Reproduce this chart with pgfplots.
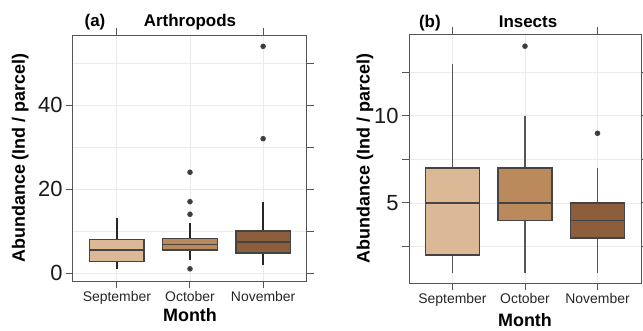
\documentclass[border=0pt]{standalone}
\usepackage{fontspec}
\setmainfont{Liberation Sans}
\usepackage{pgfplots}
\pgfplotsset{compat=1.18}
\usepgfplotslibrary{statistics}
\definecolor{sepc}{HTML}{DBB896}
\definecolor{octc}{HTML}{BA8A5C}
\definecolor{novc}{HTML}{8C5E3B}
\definecolor{boxc}{HTML}{444444}
\definecolor{axc}{HTML}{555555}
\definecolor{gridc}{HTML}{EBEBEB}
\tikzset{ttl/.style={font=\bfseries\fontsize{17}{17}\selectfont, anchor=base}}
\pgfplotsset{
 base/.style={scale only axis, anchor=north west, xmin=-0.6, xmax=2.6,
   axis line style={axc, line width=1bp}, tick style={axc, line width=1bp},
   tick align=outside, major tick length=7bp,
   /pgf/number format/assume math mode=true},
 main/.style={base, xtick={0,1,2}, xticklabels={September,October,November},
   tick pos=left, minor tick length=0pt, grid=both, clip=false,
   major grid style={gridc, line width=0.8bp}, minor grid style={gridc, line width=0.8bp},
   xticklabel style={font=\fontsize{14}{14}\selectfont, text=black!85},
   yticklabel style={font=\fontsize{22}{22}\selectfont, text=black!90},
   xlabel={Month}, ylabel={Abundance (Ind / parcel)},
   xlabel style={font=\bfseries\fontsize{18}{18}\selectfont, anchor=center},
   ylabel style={font=\bfseries\fontsize{18}{18}\selectfont, anchor=center},
   boxplot/draw direction=y},
 over/.style={base, axis line style={draw=none}, tick pos=right, xtick={0,2},
   xticklabels={}, yticklabels={}},
 bx/.style={boxplot/draw direction=y, boxplot/box extend=0.75, boxplot/whisker extend=0, draw=boxc,
   line width=1.5bp, mark=*, mark size=2bp, mark options={draw=none, fill=black!80},
   boxplot/every box/.style={draw=boxc, line width=1.6bp},
   boxplot/every median/.style={draw=boxc, line width=1.5bp},
   boxplot/every whisker/.style={draw=black!85, line width=1.3bp}},
 bxb/.style={bx, boxplot/every whisker/.style={draw=axc, line width=1.3bp}}
}
\begin{document}
\begin{tikzpicture}
\useasboundingbox (0,0) rectangle (643bp,-331bp);
% ---------- Panel (a)
\begin{axis}[main, at={(73bp,-35bp)}, width=234bp, height=246bp,
  ymin=-1.9, ymax=56.7, ytick={0,20,40}, minor ytick={10,30,50},
  xlabel style={at={(axis description cs:0.5,-0.138)}},
  ylabel style={at={(axis description cs:-0.226,0.5)}}]
\addplot[bx, fill=sepc, boxplot prepared={draw position=0, lower whisker=1, lower quartile=2.7, median=5.5, upper quartile=8, upper whisker=13}] coordinates {};
\addplot[bx, fill=octc, boxplot prepared={draw position=1, lower whisker=3, lower quartile=5.5, median=6.8, upper quartile=8.2, upper whisker=12}] coordinates {(1,1) (1,14) (1,17) (1,24)};
\addplot[bx, fill=novc, boxplot prepared={draw position=2, lower whisker=2, lower quartile=4.7, median=7.4, upper quartile=10, upper whisker=17}] coordinates {(2,32) (2,54)};
\node[ttl] at (rel axis cs:0.094,1.033) {(a)};
\node[ttl] at (rel axis cs:0.5,1.033) {Arthropods};
\end{axis}
\begin{axis}[over, at={(73bp,-35bp)}, width=234bp, height=246bp,
  ymin=-1.9, ymax=56.7, ytick={0,10,...,50}]
\end{axis}
% ---------- Panel (b)
\begin{axis}[main, at={(409bp,-34bp)}, width=232bp, height=249bp,
  ymin=0.4, ymax=14.7, ytick={5,10}, minor ytick={2.5,7.5,12.5},
  minor tick length=7bp,
  xlabel style={at={(axis description cs:0.5,-0.149)}},
  ylabel style={at={(axis description cs:-0.19,0.5)}}]
\addplot[bxb, fill=sepc, boxplot prepared={draw position=0, lower whisker=1, lower quartile=2, median=5, upper quartile=7, upper whisker=13}] coordinates {};
\addplot[bxb, fill=octc, boxplot prepared={draw position=1, lower whisker=1, lower quartile=4, median=5, upper quartile=7, upper whisker=10}] coordinates {(1,14)};
\addplot[bxb, fill=novc, boxplot prepared={draw position=2, lower whisker=1, lower quartile=3, median=4, upper quartile=5, upper whisker=7}] coordinates {(2,9)};
\node[ttl] at (rel axis cs:0.09,1.028) {(b)};
\node[ttl] at (rel axis cs:0.513,1.028) {Insects};
\end{axis}
\begin{axis}[over, at={(409bp,-34bp)}, width=232bp, height=249bp,
  ymin=0.4, ymax=14.7, ytick={2.5,5,...,12.5}]
\end{axis}
\end{tikzpicture}
\end{document}
